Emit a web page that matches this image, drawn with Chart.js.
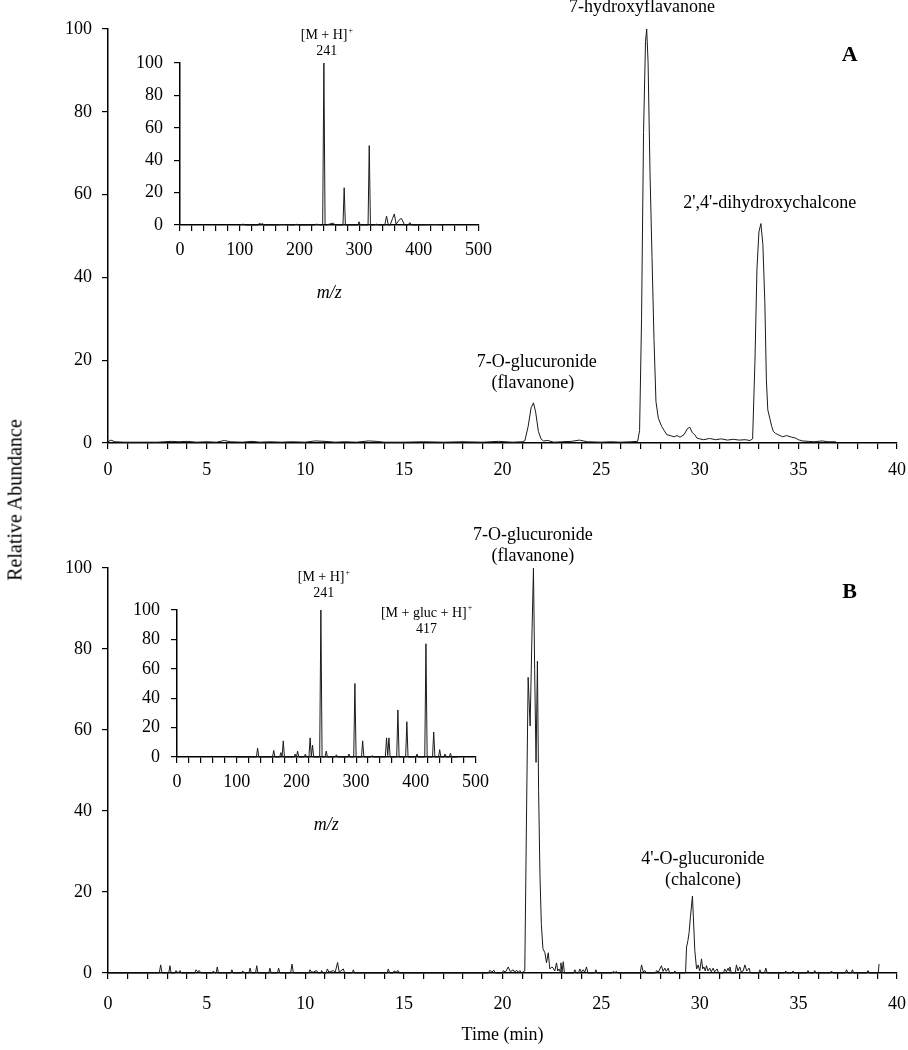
<!DOCTYPE html>
<html>
<head>
<meta charset="utf-8">
<script src="https://cdn.jsdelivr.net/npm/chart.js@4.4.1/dist/chart.umd.min.js"></script>
<style>
  html, body { margin: 0; padding: 0; background: #fff; }
  #wrap { position: relative; width: 908px; height: 1050px; background: #fff; overflow: hidden; }
  canvas { position: absolute; }
  #ylab { position: absolute; left: 15px; top: 500px; transform: translate(-50%, -50%) rotate(-90deg);
          font: 20px 'Liberation Serif', 'Times New Roman', serif; white-space: nowrap; color: #000; }
</style>
</head>
<body>
<div id="wrap">
  <canvas id="mainA" width="916" height="500" style="left:0;top:0"></canvas>
  <canvas id="mainB" width="920" height="550" style="left:0;top:500px"></canvas>
  <canvas id="insetA" width="380" height="300" style="left:120px;top:10px"></canvas>
  <canvas id="insetB" width="380" height="300" style="left:117px;top:560px"></canvas>
  <div id="ylab">Relative Abundance</div>
</div>
<script>
// Panel A chromatogram (time in min, relative abundance)
const timeA = [
  0, 0.15, 0.35, 0.8, 1.5, 2.5, 3.2, 3.6, 4, 4.5,
  5, 5.5, 5.9, 6.2, 6.8, 7.3, 7.7, 8.2, 8.8, 9.3,
  10, 10.5, 11, 11.5, 12, 12.6, 13.2, 13.6, 14, 15,
  16, 17, 18, 19, 19.8, 20.5, 21.0, 21.13, 21.3, 21.45,
  21.57, 21.68, 21.82, 21.95, 22.07, 22.3, 22.6, 23, 23.5, 23.9,
  24.3, 25, 25.5, 26, 26.5, 26.85, 26.95, 27.05, 27.15, 27.25,
  27.31, 27.38, 27.48, 27.58, 27.68, 27.78, 27.9, 28.07, 28.2, 28.33,
  28.5, 28.7, 28.85, 29.0, 29.2, 29.38, 29.5, 29.62, 29.75, 29.85,
  30, 30.2, 30.5, 30.8, 31.1, 31.4, 31.7, 32, 32.3, 32.55,
  32.68, 32.8, 32.9, 33.0, 33.1, 33.2, 33.3, 33.38, 33.45, 33.57,
  33.65, 33.73, 33.85, 33.98, 34.2, 34.4, 34.66, 34.85, 35.0, 35.2,
  35.5, 35.8, 36.2, 36.5, 36.9
];
const abundA = [
  0.3, 0.7, 0.3, 0.2, 0.2, 0.2, 0.4, 0.3, 0.4, 0.2,
  0.3, 0.2, 0.6, 0.3, 0.2, 0.4, 0.2, 0.3, 0.2, 0.3,
  0.2, 0.5, 0.4, 0.2, 0.3, 0.2, 0.5, 0.4, 0.2, 0.2,
  0.3, 0.2, 0.3, 0.2, 0.4, 0.2, 0.3, 0.5, 4, 8.5,
  9.7, 7.5, 2.8, 1, 0.5, 0.6, 0.2, 0.3, 0.4, 0.7,
  0.3, 0.2, 0.3, 0.2, 0.3, 0.4, 3, 30, 75, 97,
  100, 92, 65, 45, 25, 10, 6, 4, 3, 2,
  1.8, 1.5, 1.8, 1.4, 2, 3.5, 3.8, 2.5, 2, 1.2,
  1, 0.8, 1.1, 0.8, 1, 0.7, 0.9, 0.7, 0.8, 0.6,
  1, 20, 42, 51, 53, 48, 34, 15, 8, 5.6,
  4, 2.8, 2.3, 2, 1.5, 1.8, 1.4, 1.2, 0.8, 0.5,
  0.4, 0.3, 0.5, 0.3, 0.3
];

// Panel B chromatogram
const timeB = [
  0, 2.6, 2.67, 2.74, 3.08, 3.14, 3.2, 3.4, 3.45, 3.55,
  3.65, 3.72, 4.4, 4.46, 4.55, 4.63, 4.7, 5.28, 5.34, 5.42,
  5.48, 5.54, 5.6, 6.22, 6.28, 6.34, 6.78, 6.83, 6.9, 7.14,
  7.2, 7.27, 7.48, 7.54, 7.6, 8.15, 8.21, 8.27, 8.59, 8.65,
  8.71, 9.26, 9.33, 9.4, 10.18, 10.24, 10.3, 10.4, 10.58, 10.65,
  10.78, 10.83, 10.9, 11.06, 11.12, 11.2, 11.42, 11.52, 11.64, 11.72,
  11.93, 12, 12.38, 12.44, 12.5, 14.15, 14.21, 14.28, 14.45, 14.5,
  14.6, 14.71, 14.78, 19.28, 19.36, 19.46, 19.56, 19.63, 19.98, 20.04,
  20.15, 20.29, 20.4, 20.54, 20.62, 20.71, 20.8, 20.88, 20.95, 21.13,
  21.22, 21.3, 21.4, 21.5, 21.57, 21.63, 21.7, 21.77, 21.83, 21.9,
  21.97, 22.05, 22.15, 22.23, 22.32, 22.4, 22.5, 22.57, 22.65, 22.74,
  22.8, 22.87, 22.92, 22.96, 23.02, 23.08, 23.14, 23.6, 23.67, 23.75,
  23.85, 23.92, 24.0, 24.09, 24.17, 24.26, 24.33, 24.68, 24.73, 24.8,
  25.55, 25.61, 25.7, 25.78, 25.85, 26.98, 27.05, 27.13, 27.22, 27.3,
  27.75, 27.81, 27.9, 28.06, 28.14, 28.23, 28.3, 28.4, 28.47, 28.68,
  28.74, 28.8, 29.28, 29.33, 29.4, 29.46, 29.53, 29.63, 29.75, 29.84,
  29.92, 30.0, 30.09, 30.15, 30.21, 30.28, 30.34, 30.42, 30.51, 30.58,
  30.68, 30.75, 30.88, 30.95, 31.2, 31.27, 31.35, 31.44, 31.49, 31.53,
  31.6, 31.8, 31.86, 31.94, 32.03, 32.1, 32.2, 32.29, 32.38, 32.5,
  32.57, 32.98, 33.05, 33.12, 33.28, 33.35, 33.42, 34.3, 34.36, 34.42,
  34.67, 34.73, 34.8, 35.43, 35.49, 35.56, 35.77, 35.83, 35.9, 36.62,
  36.68, 36.75, 37.38, 37.44, 37.52, 37.68, 37.74, 37.8, 38.47, 38.53,
  38.6, 39.05, 39.09
];
const abundB = [
  0, 0, 2, 0, 0, 1.8, 0, 0, 0.6, 0,
  0.6, 0, 0, 0.8, 0.3, 0.6, 0, 0, 0.5, 0,
  0, 1.5, 0, 0, 0.8, 0, 0, 0.5, 0, 0,
  1.2, 0, 0, 1.8, 0, 0, 1.2, 0, 0, 1.2,
  0, 0, 2.2, 0, 0, 0.8, 0.3, 0.2, 0.6, 0,
  0, 0.6, 0, 0, 1, 0.2, 0.6, 0.2, 2.6, 0.2,
  1, 0, 0, 0.8, 0, 0, 1, 0, 0, 0.5,
  0.2, 0.6, 0, 0, 0.7, 0.2, 0.7, 0, 0, 0.6,
  0.2, 1.5, 0.3, 0.8, 0.2, 0.7, 0.2, 0.6, 0, 0.5,
  40, 73, 61, 85, 100, 75, 52, 77, 45, 24,
  12, 6, 5, 2.5, 5, 1, 1.5, 1.2, 0.5, 2.5,
  0.5, 1, 0.3, 2.5, 0.3, 2.8, 0, 0, 0.8, 0,
  0, 1, 0.2, 0.8, 0.2, 1.5, 0, 0, 0.8, 0,
  0, 0.4, 0.1, 0.4, 0, 0, 2, 0.3, 0.6, 0,
  0, 0.6, 0.2, 1.8, 0.4, 1.2, 0.4, 1.2, 0, 0,
  0.5, 0, 0, 6.4, 8, 10, 14, 19, 5.5, 1,
  2, 0.5, 3.5, 1, 1.5, 0.5, 1.8, 0.5, 1.2, 0.3,
  1.2, 0.3, 1, 0, 0, 1, 0.3, 1.2, 0.5, 1.5,
  0, 0, 2, 0.5, 1.5, 0.3, 0.5, 2, 0.5, 1.2,
  0, 0, 0.8, 0, 0, 1.2, 0, 0, 0.5, 0,
  0, 0.5, 0, 0, 0.6, 0, 0, 0.6, 0, 0,
  0.5, 0, 0, 0.8, 0, 0, 0.8, 0, 0, 0.6,
  0, 0, 2.2
];

// Inset A mass spectrum (m/z, relative intensity)
const mzA = [
  100, 106, 110, 130, 133, 136, 138, 141, 160, 170,
  190, 195, 200, 225, 228, 236, 239, 241, 243, 245,
  257, 260, 273, 275, 277, 298, 300, 302, 315, 317,
  319, 325, 329, 333, 343, 346, 349, 352, 356, 359,
  362, 365, 368, 371, 373, 376, 382, 385, 388, 400,
  430, 440
];
const intA = [
  0, 0.5, 0, 0, 1, 0.5, 1, 0, 0, 0.3,
  0, 0.4, 0, 0, 0.5, 0, 0, 100, 0, 0,
  1.2, 0, 0, 23, 0, 0, 2, 0, 0, 49,
  0, 0, 0.5, 0, 0, 5.5, 0, 0, 4, 6.8,
  0.5, 2, 3.5, 4, 2.5, 0, 0, 1.5, 0, 0,
  0.3, 0
];

// Inset B mass spectrum
const mzB = [
  100, 133, 135, 137, 160, 162, 164, 172, 174, 176,
  178, 180, 196, 198, 200, 202, 204, 213, 215, 217,
  221, 223, 225, 227, 229, 239, 241, 243, 248, 250,
  252, 265, 267, 269, 286, 288, 290, 296, 298, 300,
  309, 311, 313, 325, 327, 329, 349, 351, 353, 355,
  357, 368, 370, 372, 383, 385, 387, 400, 402, 404,
  415, 417, 419, 428, 430, 432, 438, 440, 442, 447,
  449, 451, 456, 458, 460, 470
];
const intB = [
  0, 0, 6, 0, 0, 4.5, 0, 0, 3, 0,
  11, 0, 0, 2, 0, 4, 0, 0, 2, 0,
  0, 13, 0, 8, 0, 0, 100, 0, 0, 4,
  0, 0, 1.5, 0, 0, 2, 0, 0, 50, 0,
  0, 11, 0, 0, 1, 0, 0, 13, 1, 13,
  0, 0, 32, 0, 0, 24, 0, 0, 2, 0,
  0, 77, 0, 0, 17, 0, 0, 5, 0, 0,
  2, 0, 0, 2.5, 0, 0
];

// Peak labels: text, anchor in data units
const labelsA = [
  { text: '7-hydroxyflavanone', x: 27.07, y: 105.3 },
  { text: "2',4'-dihydroxychalcone", x: 33.55, y: 58 },
  { text: '7-O-glucuronide', x: 21.74, y: 19.6 },
  { text: '(flavanone)', x: 21.54, y: 14.5 },
  { text: 'A', x: 37.6, y: 93.7, bold: true }
];
const labelsB = [
  { text: '7-O-glucuronide', x: 21.54, y: 108 },
  { text: '(flavanone)', x: 21.54, y: 103 },
  { text: "4'-O-glucuronide", x: 30.16, y: 28 },
  { text: '(chalcone)', x: 30.16, y: 23 },
  { text: 'B', x: 37.6, y: 94, bold: true }
];
const labelsInsetA = [
  { text: '[M + H]', sup: '+', x: 246, y: 117 },
  { text: '241', x: 246, y: 107 }
];
const labelsInsetB = [
  { text: '[M + H]', sup: '+', x: 246, y: 122 },
  { text: '241', x: 246, y: 111.6 },
  { text: '[M + gluc + H]', sup: '+', x: 418, y: 98 },
  { text: '417', x: 418, y: 87 }
];

const SERIF = "'Liberation Serif', 'Times New Roman', serif";
Chart.defaults.font.family = SERIF;
Chart.defaults.color = '#000';

// draws the text labels next to the peaks
const notesPlugin = {
  id: 'notes',
  afterDatasetsDraw(chart, args, opts) {
    const ctx = chart.ctx;
    const xs = chart.scales.x, ys = chart.scales.y;
    const size = opts.size || 18;
    (opts.items || []).forEach(n => {
      ctx.save();
      ctx.fillStyle = '#000';
      ctx.textBaseline = 'middle';
      ctx.textAlign = 'left';
      const main = (n.bold ? 'bold ' + (size + 4) : size) + 'px ' + SERIF;
      const supF = Math.round(size * 0.6) + 'px ' + SERIF;
      ctx.font = main;
      const w = ctx.measureText(n.text).width;
      let sw = 0;
      if (n.sup) { ctx.font = supF; sw = ctx.measureText(n.sup).width + 1; ctx.font = main; }
      const px = xs.getPixelForValue(n.x), py = ys.getPixelForValue(n.y);
      const x0 = px - (w + sw) / 2;
      ctx.fillText(n.text, x0, py);
      if (n.sup) { ctx.font = supF; ctx.fillText(n.sup, x0 + w + 1, py - size * 0.35); }
      ctx.restore();
    });
  }
};
Chart.register(notesPlugin);

function buildChart(id, xs, ys, o) {
  const pts = xs.map((v, i) => ({ x: v, y: ys[i] }));
  return new Chart(document.getElementById(id), {
    type: 'line',
    data: { datasets: [{ data: pts, borderColor: '#1a1a1a', borderWidth: 1, pointRadius: 0, tension: 0, clip: false }] },
    options: {
      responsive: false,
      animation: false,
      events: [],
      layout: { padding: o.padding },
      plugins: {
        legend: { display: false },
        tooltip: { enabled: false },
        notes: { items: o.notes, size: o.noteSize }
      },
      scales: {
        x: {
          type: 'linear', min: o.xMin, max: o.xMax,
          afterFit: s => { s.height = o.xH; },
          ticks: {
            stepSize: o.xStep, autoSkip: false, maxRotation: 0, padding: o.xPad,
            font: { size: 18 },
            callback: v => (v % o.xEvery === 0 ? v : '')
          },
          grid: { drawOnChartArea: false, drawTicks: true, tickLength: 6, color: '#000', lineWidth: 1.2 },
          border: { color: '#000', width: 1.5 },
          title: o.xTitle
            ? { display: true, text: o.xTitle, font: { size: 18, style: o.xTitleStyle || 'normal' }, padding: { top: 0, bottom: o.xTitlePad } }
            : { display: false }
        },
        y: {
          min: 0, max: 100,
          afterFit: s => { s.width = o.yW; },
          ticks: { stepSize: 20, padding: o.yPad, font: { size: 18 } },
          grid: { drawOnChartArea: false, drawTicks: true, tickLength: 6, color: '#000', lineWidth: 1.2 },
          border: { color: '#000', width: 1.5 }
        }
      }
    }
  });
}

// Main chromatograms (canvas a bit wider than the page: the last tick label asks for right room)
buildChart('mainA', timeA, abundA, {
  padding: { left: 0, right: 0, top: 29, bottom: 0 },
  xMin: 0, xMax: 40, xStep: 1, xEvery: 5, xH: 57, xPad: 10, yW: 108, yPad: 10,
  notes: labelsA, noteSize: 18
});
buildChart('mainB', timeB, abundB, {
  padding: { left: 0, right: 0, top: 68, bottom: 0 },
  xMin: 0, xMax: 40, xStep: 1, xEvery: 5, xH: 77, xPad: 14, yW: 108, yPad: 10,
  xTitle: 'Time (min)', xTitlePad: 4,
  notes: labelsB, noteSize: 18
});

// Inset mass spectra
buildChart('insetA', mzA, intA, {
  padding: { left: 0, right: 21, top: 53, bottom: 0 },
  xMin: 0, xMax: 500, xStep: 20, xEvery: 100, xH: 85, xPad: 8, yW: 60, yPad: 11,
  xTitle: 'm/z', xTitleStyle: 'italic', xTitlePad: 6,
  notes: labelsInsetA, noteSize: 14
});
buildChart('insetB', mzB, intB, {
  padding: { left: 0, right: 21, top: 50, bottom: 0 },
  xMin: 0, xMax: 500, xStep: 20, xEvery: 100, xH: 103, xPad: 8, yW: 60, yPad: 11,
  xTitle: 'm/z', xTitleStyle: 'italic', xTitlePad: 24,
  notes: labelsInsetB, noteSize: 14
});
</script>
</body>
</html>
